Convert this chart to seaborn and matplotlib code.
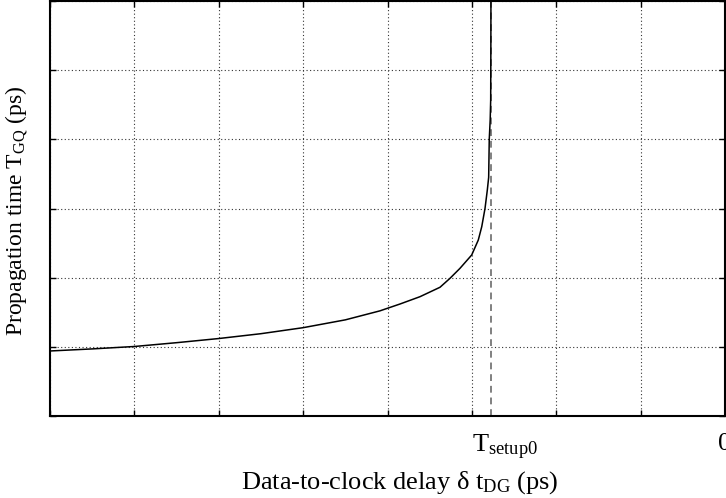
import numpy as np
import pandas as pd
import matplotlib
matplotlib.use("Agg")
import matplotlib.pyplot as plt
import seaborn as sns

# ---- data (arbitrary grid units) ----
delay = [-8.0, -7.5, -7.0, -6.5, -6.0, -5.5, -5.0, -4.5, -4.09, -3.85, -3.615, -3.378,
         -3.259, -3.141, -3.002, -2.924, -2.883, -2.844, -2.817, -2.801, -2.794,
         -2.783, -2.777, -2.775, -2.774]
prop_time = [0.94, 0.97, 1.005, 1.06, 1.12, 1.19, 1.277, 1.39, 1.52, 1.62, 1.725, 1.861,
             1.991, 2.135, 2.328, 2.544, 2.737, 3.003, 3.267, 3.45, 4.0,
             4.28, 4.57, 5.29, 6.0]
t_setup0 = -2.768
x_ticks = [-8, -7, -6, -5, -4, -3, -2, -1, 0]
x_tick_labels = ["", "", "", "", "", r"$\mathregular{T_{setup0}}$", "", "", "0"]
y_ticks = [0, 1, 2, 3, 4, 5, 6]

df = pd.DataFrame({"delay": delay, "prop": prop_time})

sns.set_theme(style="white")
plt.rcParams["font.family"] = ["Liberation Serif", "DejaVu Serif"]
plt.rcParams["mathtext.fontset"] = "custom"
plt.rcParams["mathtext.rm"] = "Liberation Serif"
plt.rcParams["mathtext.it"] = "Liberation Serif:italic"

fig = plt.figure(figsize=(7.26, 4.98), dpi=100)
ax = fig.add_axes([50 / 726, 82 / 498, 675 / 726, 415 / 498])

ax.set_xlim(-8, 0)
ax.set_ylim(0, 6)
ax.set_xticks(x_ticks)
ax.set_xticklabels(x_tick_labels)
ax.set_yticks(y_ticks)
ax.set_yticklabels([])

ax.grid(True, color="#333333", linestyle=(0, (1, 2.2)), linewidth=0.8)

ax.axvline(t_setup0, color="#808080", linestyle=(0, (3.5, 2.5)), linewidth=1.4, zorder=2)
sns.lineplot(data=df, x="delay", y="prop", color="black", linewidth=1.1, ax=ax,
             sort=False, estimator=None, zorder=3)

for s in ax.spines.values():
    s.set_color("black")
    s.set_linewidth(1.5)

ax.tick_params(axis="both", which="major", direction="in", length=4, width=1,
               top=True, right=True, bottom=True, left=True, colors="black",
               labelsize=19, pad=12)
for lbl in ax.get_xticklabels():
    if "setup" in lbl.get_text():
        lbl.set_ha("left")
    else:
        lbl.set_ha("center")

ax.set_xlabel(r"Data-to-clock delay δ $\mathregular{t_{DG}}$ (ps)", fontsize=19, color="black")
ax.set_ylabel(r"Propagation time $\mathregular{T_{GQ}}$ (ps)", fontsize=17, color="black")
ax.xaxis.set_label_coords((400 - 50) / 675, -0.128)
ax.yaxis.set_label_coords(-0.030, 0.494)

fig.savefig("out.png", dpi=100)
